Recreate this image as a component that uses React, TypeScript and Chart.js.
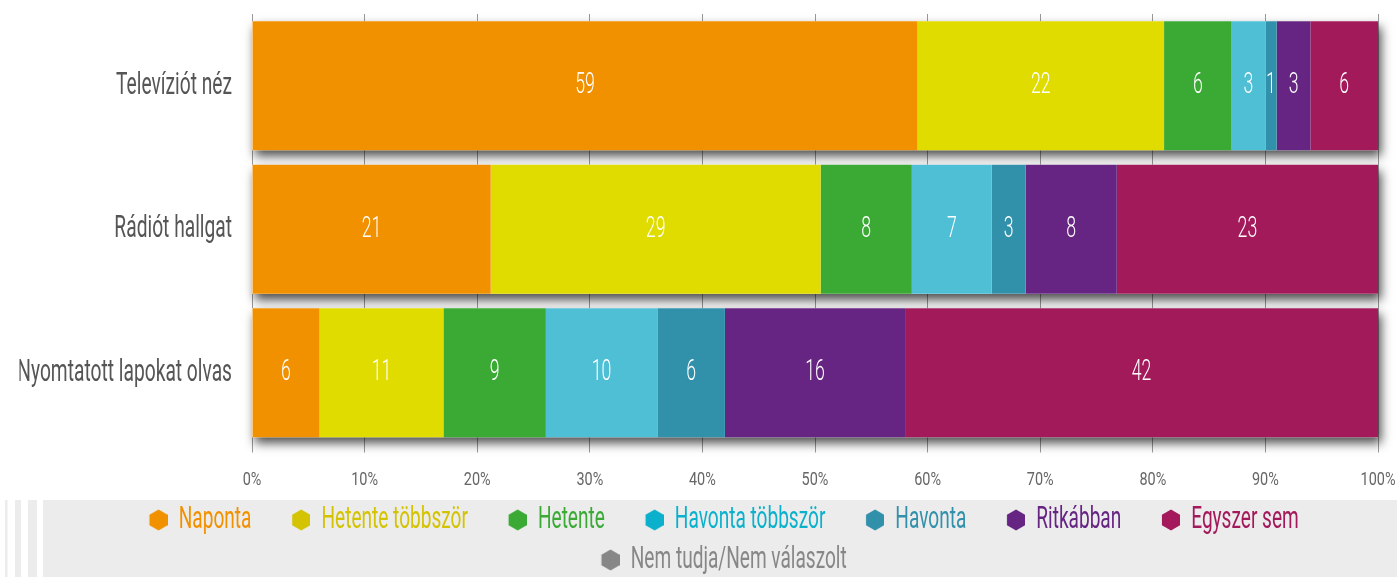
import React, { useEffect, useRef } from 'react';
import { Chart, registerables } from 'chart.js';

Chart.register(...registerables);

// ---------- data ----------
const categories = ['Televíziót néz', 'Rádiót hallgat', 'Nyomtatott lapokat olvas'];
const seriesLabels = [
  'Naponta',
  'Hetente többször',
  'Hetente',
  'Havonta többször',
  'Havonta',
  'Ritkábban',
  'Egyszer sem',
  'Nem tudja/Nem válaszolt',
];
const naponta = [59.1, 21.2, 6.0];
const hetenteTobbszor = [21.9, 29.3, 11.0];
const hetente = [6.0, 8.1, 9.1];
const havontaTobbszor = [3.0, 7.1, 9.9];
const havonta = [1.0, 3.0, 6.0];
const ritkabban = [3.0, 8.1, 16.0];
const egyszerSem = [6.0, 23.2, 42.0];
const nemTudja = [0, 0, 0];
const seriesValues = [naponta, hetenteTobbszor, hetente, havontaTobbszor, havonta, ritkabban, egyszerSem, nemTudja];

const xTickValues = [0, 10, 20, 30, 40, 50, 60, 70, 80, 90, 100];

// ---------- styles ----------
const barColors = ['#f29100', '#e0dc00', '#3aaa35', '#4fbfd6', '#3190aa', '#662483', '#a31a5a', '#878787'];
const legendColors = ['#f29100', '#d4c300', '#3aaa35', '#0bb1cc', '#3190aa', '#662483', '#a3195b', '#878787'];
const FONT = 'Roboto';
const LEFT_PAD = 19.5;

function textScale(px: number) {
  if (px >= 31 && px < 32) return 0.615; // legend
  if (px >= 32) return 0.6; // category labels
  if (px >= 25) return 0.59; // value labels
  return 0.76; // x ticks
}

function patchContext(ctx: CanvasRenderingContext2D) {
  const origFill = ctx.fillText.bind(ctx);
  const origMeasure = ctx.measureText.bind(ctx);
  const getScale = () => {
    const m = /(\d+(?:\.\d+)?)px/.exec(ctx.font);
    return m ? textScale(parseFloat(m[1])) : 1;
  };
  (ctx as any).fillText = (text: string, x: number, y: number, maxWidth?: number) => {
    const s = getScale();
    ctx.save();
    ctx.translate(x, y);
    ctx.scale(s, 1);
    if (maxWidth === undefined || maxWidth === null) origFill(text, 0, 0);
    else origFill(text, 0, 0, maxWidth / s);
    ctx.restore();
  };
  (ctx as any).measureText = (text: string) => {
    const s = getScale();
    const m = origMeasure(text);
    return {
      width: m.width * s,
      actualBoundingBoxAscent: m.actualBoundingBoxAscent,
      actualBoundingBoxDescent: m.actualBoundingBoxDescent,
      actualBoundingBoxLeft: m.actualBoundingBoxLeft * s,
      actualBoundingBoxRight: m.actualBoundingBoxRight * s,
      fontBoundingBoxAscent: m.fontBoundingBoxAscent,
      fontBoundingBoxDescent: m.fontBoundingBoxDescent,
    };
  };
}

function makeHex(color: string) {
  const w = 54.5;
  const c = document.createElement('canvas');
  c.width = w;
  c.height = 22;
  const g = c.getContext('2d')!;
  const cx = w - 9.5;
  const cy = 11;
  const r = 10.5;
  g.beginPath();
  for (let k = 0; k < 6; k++) {
    const a = -Math.PI / 2 + (k * Math.PI) / 3;
    const px = cx + r * Math.cos(a);
    const py = cy + r * Math.sin(a);
    if (k === 0) g.moveTo(px, py);
    else g.lineTo(px, py);
  }
  g.closePath();
  g.fillStyle = color;
  g.fill();
  return c;
}

const legendBackground = {
  id: 'legendBackground',
  beforeDraw(chart: any) {
    const { ctx } = chart;
    const top = chart.legend ? chart.legend.top + 4.5 : chart.height - 77;
    const h = chart.height - top;
    ctx.save();
    ctx.fillStyle = '#ececec';
    ctx.fillRect(43, top, chart.width - 43, h);
    ctx.fillRect(5, top, 2.5, h);
    ctx.fillRect(15, top, 6, h);
    ctx.fillRect(28, top, 9, h);
    ctx.restore();
  },
};

const barShadow = {
  id: 'barShadow',
  beforeDatasetsDraw(chart: any) {
    const { ctx } = chart;
    const x = chart.scales.x;
    const meta = chart.getDatasetMeta(0);
    const left = x.getPixelForValue(0);
    const right = x.getPixelForValue(100);
    ctx.save();
    ctx.shadowColor = 'rgba(0,0,0,0.7)';
    ctx.shadowBlur = 10;
    ctx.shadowOffsetX = 3;
    ctx.shadowOffsetY = 6;
    ctx.fillStyle = '#ffffff';
    meta.data.forEach((el: any) => {
      const { y, height } = el.getProps(['y', 'height'], true);
      ctx.fillRect(left, y - height / 2, right - left, height);
    });
    ctx.restore();
  },
};

const valueLabels = {
  id: 'valueLabels',
  afterDatasetsDraw(chart: any) {
    const { ctx } = chart;
    ctx.save();
    ctx.font = `300 30px ${FONT}`;
    ctx.fillStyle = '#ffffff';
    ctx.textAlign = 'center';
    ctx.textBaseline = 'middle';
    chart.data.datasets.forEach((ds: any, di: number) => {
      const meta = chart.getDatasetMeta(di);
      meta.data.forEach((el: any, i: number) => {
        const v = ds.data[i];
        if (!v) return;
        const { x, base, y } = el.getProps(['x', 'base', 'y'], true);
        ctx.fillText(String(Math.round(v)), (x + base) / 2, y);
      });
    });
    ctx.restore();
  },
};

export default function App() {
  const ref = useRef<HTMLCanvasElement>(null);

  useEffect(() => {
    document.body.style.margin = '0';
    document.body.style.overflow = 'hidden';
    const canvas = ref.current!;
    const ctx = canvas.getContext('2d')!;
    patchContext(ctx);
    const hexes = legendColors.map(makeHex);

    const chart = new Chart(canvas, {
      type: 'bar',
      data: {
        labels: categories,
        datasets: seriesLabels.map((label, i) => ({
          label,
          data: seriesValues[i],
          backgroundColor: barColors[i],
          borderWidth: 0,
          barPercentage: 0.9,
          categoryPercentage: 1,
        })),
      },
      options: {
        indexAxis: 'y',
        responsive: false,
        animation: false,
        devicePixelRatio: 1,
        layout: { padding: { top: 14, left: LEFT_PAD, right: 0, bottom: 0 } },
        scales: {
          x: {
            stacked: true,
            min: 0,
            max: 100,
            afterBuildTicks: (scale: any) => {
              scale.ticks = xTickValues.map((v) => ({ value: v }));
            },
            afterFit: (scale: any) => {
              scale.height = 51;
              scale.paddingLeft = 0;
              scale.paddingRight = 19;
            },
            border: { display: false },
            grid: { color: '#9a9a9a', lineWidth: 1, drawTicks: true, tickLength: 8 },
            ticks: {
              padding: 16,
              color: '#666666',
              font: { family: FONT, size: 19, weight: 400 },
              callback: (v: any) => `${v}%`,
              maxRotation: 0,
            },
          },
          y: {
            stacked: true,
            afterFit: (scale: any) => {
              scale.width = 252 - LEFT_PAD;
              scale.paddingTop = 0;
              scale.paddingBottom = 0;
            },
            border: { display: false },
            grid: { display: false, drawTicks: false },
            ticks: {
              padding: 20,
              color: '#555555',
              font: { family: FONT, size: 32, weight: 400 },
            },
          },
        },
        plugins: {
          tooltip: { enabled: false },
          legend: {
            position: 'bottom',
            maxHeight: 81.5,
            onClick: () => {},
            labels: {
              usePointStyle: true,
              pointStyleWidth: 45.5,
              padding: 9,
              font: { family: FONT, size: 31, weight: 400 },
              generateLabels: (c: any) =>
                c.data.datasets.map((ds: any, i: number) => ({
                  text: ds.label,
                  fillStyle: legendColors[i],
                  strokeStyle: legendColors[i],
                  fontColor: legendColors[i],
                  lineWidth: 0,
                  pointStyle: hexes[i],
                  hidden: false,
                  datasetIndex: i,
                })),
            },
          },
        },
      },
      plugins: [legendBackground, barShadow, valueLabels],
    } as any);

    return () => chart.destroy();
  }, []);

  return <canvas ref={ref} width={1397} height={577} style={{ display: 'block' }} />;
}
